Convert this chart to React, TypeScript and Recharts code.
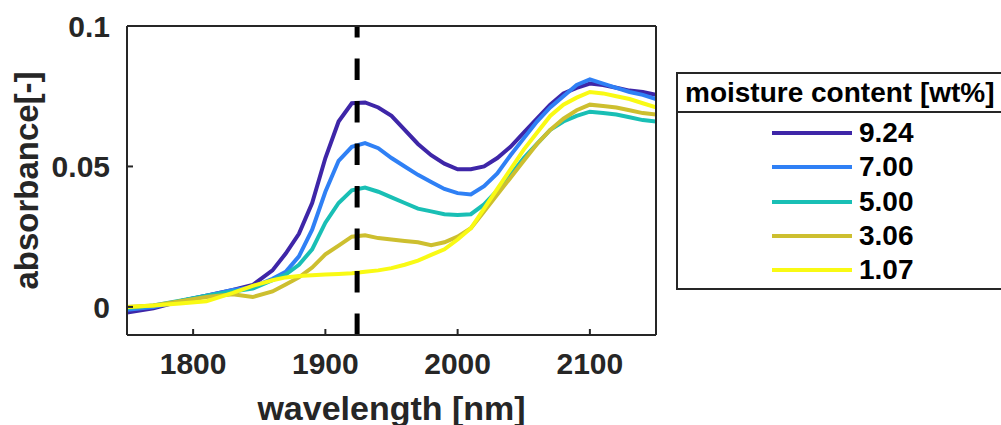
import { LineChart, Line, XAxis, YAxis, ReferenceLine, Legend, Label } from "recharts";

const FONT = "'Liberation Sans', Arial, Helvetica, sans-serif";
const AXIS = "#262626";

// wavelength grid [nm]
const WAVELENGTH = [
  1750, 1770, 1790, 1810, 1830, 1845, 1860, 1870, 1880, 1890, 1900, 1910,
  1920, 1930, 1940, 1950, 1960, 1970, 1980, 1990, 2000, 2010, 2020, 2030,
  2040, 2050, 2060, 2070, 2080, 2090, 2100, 2110, 2120, 2130, 2140, 2150,
];

// absorbance per moisture content
const MC_924 = [
  -0.002, -0.0005, 0.002, 0.004, 0.006, 0.0078, 0.013, 0.019, 0.026, 0.037, 0.053, 0.066,
  0.0725, 0.0728, 0.071, 0.068, 0.063, 0.058, 0.054, 0.051, 0.049, 0.049, 0.05, 0.053,
  0.057, 0.062, 0.067, 0.072, 0.076, 0.078, 0.0795, 0.079, 0.078, 0.077, 0.0765, 0.0755,
];
const MC_700 = [
  -0.001, 0, 0.002, 0.004, 0.006, 0.007, 0.01, 0.0125, 0.018, 0.0275, 0.041, 0.052,
  0.057, 0.0583, 0.0565, 0.053, 0.05, 0.047, 0.0445, 0.042, 0.0405, 0.04, 0.043, 0.0475,
  0.054, 0.06, 0.066, 0.071, 0.075, 0.079, 0.081, 0.0795, 0.078, 0.0765, 0.0755, 0.074,
];
const MC_500 = [
  -0.0005, 0.0005, 0.0022, 0.004, 0.0055, 0.0065, 0.0095, 0.0115, 0.015, 0.0205, 0.03, 0.037,
  0.0415, 0.0425, 0.041, 0.039, 0.037, 0.035, 0.034, 0.033, 0.0327, 0.033, 0.0365, 0.0415,
  0.047, 0.053, 0.058, 0.063, 0.066, 0.068, 0.0695, 0.069, 0.0685, 0.0675, 0.0665, 0.066,
];
const MC_306 = [
  0, 0.0005, 0.002, 0.0035, 0.0045, 0.0035, 0.0055, 0.008, 0.0105, 0.014, 0.0187, 0.0218,
  0.025, 0.0255, 0.0245, 0.024, 0.0235, 0.023, 0.022, 0.023, 0.025, 0.028, 0.034, 0.04,
  0.046, 0.052, 0.058, 0.063, 0.067, 0.07, 0.072, 0.0715, 0.071, 0.07, 0.069, 0.0685,
];
const MC_107 = [
  0, 0.0005, 0.0012, 0.002, 0.005, 0.0075, 0.0095, 0.0105, 0.011, 0.0113, 0.0115, 0.0117,
  0.012, 0.0125, 0.013, 0.0138, 0.015, 0.0165, 0.0185, 0.0205, 0.024, 0.028, 0.035, 0.042,
  0.049, 0.056, 0.062, 0.068, 0.072, 0.0745, 0.0765, 0.076, 0.075, 0.074, 0.0725, 0.071,
];

const SERIES = [
  { key: "mc924", name: "9.24", color: "#3e26a8", values: MC_924 },
  { key: "mc700", name: "7.00", color: "#2f80f5", values: MC_700 },
  { key: "mc500", name: "5.00", color: "#19bfb5", values: MC_500 },
  { key: "mc306", name: "3.06", color: "#cdbf2f", values: MC_306 },
  { key: "mc107", name: "1.07", color: "#f9fa14", values: MC_107 },
];

const X_TICKS = [1800, 1900, 2000, 2100];
const Y_TICKS = [0, 0.05, 0.1];
const PEAK_NM = 1924;

const data = WAVELENGTH.map((nm, i) => {
  const row: Record<string, number> = { nm };
  SERIES.forEach((s) => {
    row[s.key] = s.values[i];
  });
  return row;
});

const tickStyle = { fill: AXIS, fontSize: 30, fontWeight: 700, fontFamily: FONT };
const lineStyle = { stroke: AXIS, strokeWidth: 2 };

function YTitle(props: any) {
  const { viewBox } = props;
  const cx = viewBox.x + 38;
  const cy = viewBox.y + viewBox.height / 2;
  return (
    <text
      x={cx}
      y={cy}
      transform={`rotate(-90, ${cx}, ${cy})`}
      textAnchor="middle"
      fill={AXIS}
      fontSize={33}
      fontWeight={700}
      fontFamily={FONT}
    >
      absorbance[-]
    </text>
  );
}

function LegendBox(props: any) {
  const payload = props.payload || [];
  // keep the order of SERIES (legend lists highest moisture first)
  const entries = SERIES.map((s) => payload.find((p: any) => p.value === s.name) || { value: s.name, color: s.color });
  return (
    <div
      style={{
        width: 336,
        height: 218,
        boxSizing: "border-box",
        border: `2px solid ${AXIS}`,
        background: "#fff",
        fontFamily: FONT,
        fontWeight: 700,
        color: "#000",
      }}
    >
      <div
        style={{
          height: 37,
          lineHeight: "37px",
          borderBottom: `2px solid ${AXIS}`,
          fontSize: 28,
          paddingLeft: 7,
          whiteSpace: "nowrap",
        }}
      >
        moisture content [wt%]
      </div>
      <div style={{ paddingTop: 3 }}>
        {entries.map((entry: any) => (
          <div key={entry.value} style={{ display: "flex", alignItems: "center", height: 34.25 }}>
            <span style={{ marginLeft: 94, width: 80, height: 4, background: entry.color }} />
            <span style={{ marginLeft: 7, fontSize: 28, lineHeight: "34px" }}>{entry.value}</span>
          </div>
        ))}
      </div>
    </div>
  );
}

export default function App() {
  return (
    <div style={{ position: "absolute", left: 0, top: 0, width: 1001, height: 425, overflow: "hidden", background: "#fff" }}>
      <LineChart width={1001} height={425} data={data} margin={{ top: 25, right: 344, bottom: 0, left: 0 }}>
        <XAxis
          dataKey="nm"
          type="number"
          domain={[1750, 2150]}
          ticks={X_TICKS}
          allowDataOverflow
          height={90}
          axisLine={lineStyle}
          tickLine={lineStyle}
          tickSize={-6}
          tickMargin={24}
          tick={tickStyle}
        >
          <Label
            value="wavelength [nm]"
            position="insideBottom"
            offset={5}
            fill={AXIS}
            fontSize={34}
            fontWeight={700}
            fontFamily={FONT}
          />
        </XAxis>
        <XAxis
          xAxisId="top"
          orientation="top"
          dataKey="nm"
          type="number"
          domain={[1750, 2150]}
          ticks={X_TICKS}
          allowDataOverflow
          height={1}
          axisLine={lineStyle}
          tickLine={lineStyle}
          tickSize={-6}
          tick={false}
        />
        <YAxis
          type="number"
          domain={[-0.01, 0.1]}
          ticks={Y_TICKS}
          allowDataOverflow
          width={127}
          axisLine={lineStyle}
          tickLine={lineStyle}
          tickSize={-6}
          tickMargin={23}
          tick={tickStyle}
        >
          <Label content={YTitle} />
        </YAxis>
        <YAxis
          yAxisId="right"
          orientation="right"
          type="number"
          domain={[-0.01, 0.1]}
          ticks={Y_TICKS}
          allowDataOverflow
          width={1}
          axisLine={lineStyle}
          tickLine={lineStyle}
          tickSize={-6}
          tick={false}
        />
        {SERIES.map((s) => (
          <Line
            key={s.key}
            type="linear"
            dataKey={s.key}
            name={s.name}
            stroke={s.color}
            strokeWidth={4}
            dot={false}
            isAnimationActive={false}
          />
        ))}
        <ReferenceLine x={PEAK_NM} stroke="#000" strokeWidth={5} strokeDasharray="21.5 21" />
        <Legend
          layout="horizontal"
          align="center"
          verticalAlign="middle"
          content={LegendBox}
          wrapperStyle={{ left: 676, top: 72, width: 336 }}
        />
      </LineChart>
    </div>
  );
}
